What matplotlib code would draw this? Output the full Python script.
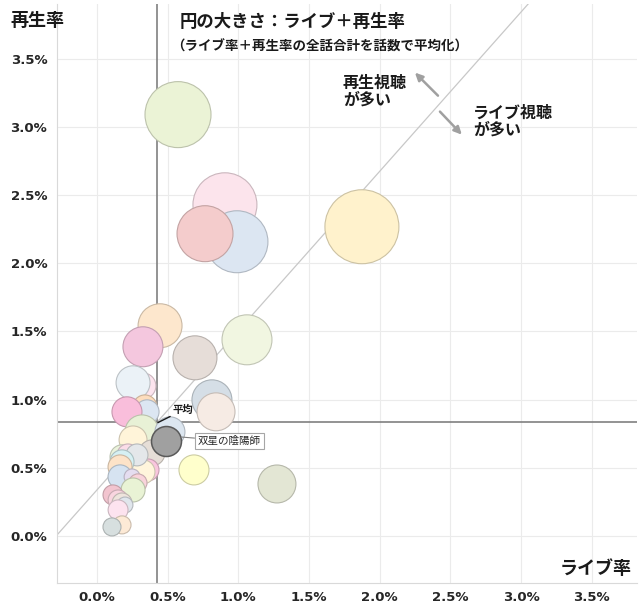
import matplotlib
matplotlib.use('Agg')
import matplotlib.pyplot as plt
from matplotlib import colors as mcolors
import numpy as np

plt.rcParams['font.family'] = ['Noto Sans CJK JP', 'DejaVu Sans']

# ライブ率 (%), 再生率 (%), 円の大きさ (ライブ＋再生率の平均値), 色
live_rate = [0.573, 0.905, 0.990, 0.764, 1.874, 0.446, 0.325, 0.693, 1.061,
             0.813, 0.842, 0.325, 0.255, 0.339, 0.354, 0.212, 0.318, 0.516,
             0.255, 0.389, 0.361, 0.325, 0.177, 0.219, 0.283, 0.177, 0.163,
             0.163, 0.248, 0.290, 0.255, 0.113, 0.149, 0.177, 0.198, 0.149,
             0.177, 0.106, 0.686, 1.273]
play_rate = [3.089, 2.428, 2.157, 2.216, 2.267, 1.541, 1.387, 1.306, 1.438,
             0.998, 0.910, 1.100, 1.123, 0.946, 0.910, 0.910, 0.763, 0.763,
             0.704, 0.609, 0.484, 0.470, 0.580, 0.594, 0.594, 0.543, 0.506,
             0.433, 0.433, 0.389, 0.337, 0.301, 0.264, 0.242, 0.227, 0.191,
             0.081, 0.066, 0.484, 0.381]
bubble_size = [3.63, 3.41, 3.20, 2.61, 4.56, 1.61, 1.33, 1.61, 2.08,
               1.33, 1.20, 0.56, 0.96, 0.48, 0.48, 0.75, 0.96, 0.75,
               0.65, 0.56, 0.40, 0.48, 0.48, 0.40, 0.40, 0.48, 0.48,
               0.48, 0.21, 0.27, 0.48, 0.33, 0.33, 0.33, 0.21, 0.33,
               0.27, 0.27, 0.75, 1.20]
bubble_color = ['#EBF3D6', '#FCE4EC', '#DCE6F2', '#F4CCCC', '#FFF2CC', '#FDE7CD',
                '#F4C7DE', '#E6DDD8', '#F1F6E1', '#D5DEE6', '#F6EBE4', '#FCE4EE',
                '#EBF2F7', '#FDDDBD', '#DCE6F2', '#F9BEDB', '#E8F1D6', '#DCE6F0',
                '#FFF4D9', '#E6DED7', '#F9C6DE', '#FFF5DC', '#EBF3DC', '#FBDDE8',
                '#E4E7EA', '#D6F0F3', '#FDE3C8', '#D6E3F1', '#E5DDF0', '#F9D3DB',
                '#E9F3D5', '#F2C4CF', '#F9D5DF', '#EEE4DC', '#E0E6EC', '#FDE3EF',
                '#FDEAD6', '#D7DFDF', '#FFFFCC', '#E3E6D4']

# 注目作品
focus_name = '双星の陰陽師'
focus_live = 0.488
focus_play = 0.697
focus_size = 0.75

avg_live = 0.425
avg_play = 0.836

ref_x = [-0.283, 3.05]
ref_y = [0.007, 3.90]

ticks = [0.0, 0.5, 1.0, 1.5, 2.0, 2.5, 3.0, 3.5]
tick_labels = ['0.0%', '0.5%', '1.0%', '1.5%', '2.0%', '2.5%', '3.0%', '3.5%']

fig = plt.figure(figsize=(6.4, 6.08), dpi=100)
ax = fig.add_axes([57 / 640, 1 - 583 / 608, 580 / 640, 579 / 608])
ax.set_xlim(-0.283, 3.82)
ax.set_ylim(-0.345, 3.90)

ax.set_xticks(ticks)
ax.set_yticks(ticks)
ax.set_xticklabels(tick_labels, fontfamily='DejaVu Sans', fontweight='bold',
                   fontsize=9.5, color='#262626')
ax.set_yticklabels(tick_labels, fontfamily='DejaVu Sans', fontweight='bold',
                   fontsize=9.5, color='#262626')
ax.tick_params(length=0)
ax.tick_params(axis='x', pad=6)
ax.tick_params(axis='y', pad=7)
ax.grid(True, color='#EBEBEB', lw=0.8)
ax.set_axisbelow(True)
for s in ['top', 'right']:
    ax.spines[s].set_visible(False)
for s in ['left', 'bottom']:
    ax.spines[s].set_color('#D9D9D9')
    ax.spines[s].set_linewidth(0.8)

ax.plot(ref_x, ref_y, color='#C8C8C8', lw=0.9, zorder=1)
ax.axvline(avg_live, color='#808080', lw=1.2, zorder=1.5)
ax.axhline(avg_play, color='#808080', lw=1.2, zorder=1.5)

scale = 622
edges = [tuple(np.array(mcolors.to_rgb(c)) * 0.8) for c in bubble_color]
ax.scatter(live_rate, play_rate, s=np.array(bubble_size) * scale,
           c=bubble_color, edgecolors=edges, linewidths=0.8, zorder=2)
ax.scatter([focus_live], [focus_play], s=focus_size * scale, c='#A0A0A0',
           edgecolors='#595959', linewidths=1.1, zorder=3)

# ラベル
ax.annotate('平均', xy=(avg_live + 0.006, avg_play - 0.005), xytext=(0.537, 0.924),
            fontsize=7.5, fontweight='bold', color='#1a1a1a', va='center',
            arrowprops=dict(arrowstyle='-', color='#1a1a1a', lw=1.0,
                            shrinkA=0, shrinkB=0), zorder=4)
ax.annotate(focus_name, xy=(0.598, 0.725), xytext=(0.715, 0.697),
            fontsize=7.6, color='#262626', va='center',
            bbox=dict(boxstyle='square,pad=0.3', fc='white', ec='#A6A6A6', lw=0.8),
            arrowprops=dict(arrowstyle='-', color='#808080', lw=0.8,
                            shrinkA=0, shrinkB=0), zorder=4)

ax.text(0.587, 3.771, '円の大きさ：ライブ＋再生率', fontsize=12.5,
        fontweight='bold', color='#1a1a1a', va='center')
ax.text(0.525, 3.588, '（ライブ率＋再生率の全話合計を話数で平均化）', fontsize=9.7,
        fontweight='bold', color='#1a1a1a', va='center')

ax.text(1.740, 3.382, '再生視聴\nが多い', fontsize=11.5, fontweight='bold',
        color='#1a1a1a', va='top', linespacing=1.05)
ax.text(2.659, 3.162, 'ライブ視聴\nが多い', fontsize=11.5, fontweight='bold',
        color='#1a1a1a', va='top', linespacing=1.05)
ax.annotate('', xy=(2.249, 3.397), xytext=(2.412, 3.228),
            arrowprops=dict(arrowstyle='-|>,head_length=0.45,head_width=0.22',
                            color='#A0A0A0', lw=1.8, shrinkA=0, shrinkB=0))
ax.annotate('', xy=(2.581, 2.942), xytext=(2.426, 3.111),
            arrowprops=dict(arrowstyle='-|>,head_length=0.45,head_width=0.22',
                            color='#A0A0A0', lw=1.8, shrinkA=0, shrinkB=0))

fig.text(10 / 640, 1 - 20 / 608, '再生率', fontsize=13, fontweight='bold',
         color='#1a1a1a', va='center', ha='left')
fig.text(632 / 640, 1 - 568 / 608, 'ライブ率', fontsize=13, fontweight='bold',
         color='#1a1a1a', va='center', ha='right')

fig.savefig('out.png', dpi=100)
